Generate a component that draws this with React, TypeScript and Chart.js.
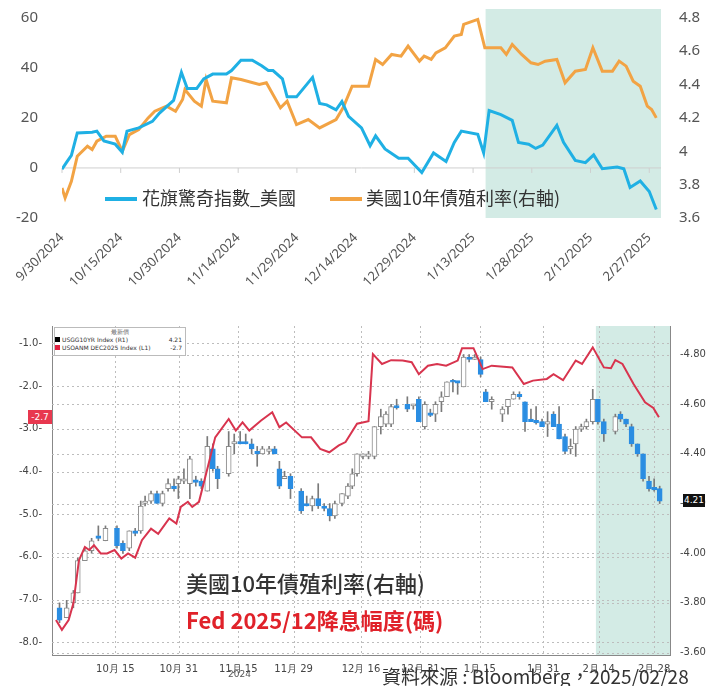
import React, { useEffect, useRef } from "react";
import { Chart, registerables } from "chart.js";
Chart.register(...registerables);

// ---------- Top chart data ----------
const topTickDays = [0, 15, 30, 45, 60, 75, 90, 105, 120, 135, 150];
const citiDays = [0, 1.2, 2.4, 3.9, 7.7, 8.9, 10.7, 13.6, 15.4, 16.6, 19.6, 23.1, 24.9, 28.5, 30.5, 32, 34.4, 36.2, 38.5, 42, 43.3, 45.7, 48.6, 51, 52.7, 53.9, 56.3, 57.5, 59.9, 64, 65.8, 67.6, 70, 71.5, 73.2, 76.5, 78.7, 80.1, 82.5, 86, 88.4, 91.9, 94.9, 98.1, 100.2, 102, 106.2, 107.7, 109.1, 112.1, 115, 116.6, 119.2, 121, 122.8, 126.4, 128.1, 131.1, 133.7, 135.8, 138, 141.8, 143.5, 145.1, 147.7, 150, 151.8];
const citiValues = [-0.5, 2.3, 5, 14, 14.3, 14.7, 10.8, 9.5, 6.3, 14.7, 16, 18.6, 21.9, 27, 38.2, 31.7, 31.7, 35.6, 37.5, 37.5, 38.9, 43, 43, 40.8, 38.9, 38.9, 35.6, 28.4, 28.4, 36.2, 25.8, 25.2, 23.2, 26.5, 20.6, 16, 8.9, 12.8, 7.6, 3.9, 3.9, -1.8, 6, 2.6, 10.2, 14.7, 13.4, 6, 22.9, 21.3, 19, 10.2, 9.5, 7.8, 9.1, 17, 10.2, 3, 2.1, 5.2, -0.3, 0.4, -0.3, -7.8, -5.2, -9.4, -16.6];
const yieldDays = [0, 0.8, 2.4, 3.9, 6.5, 7.7, 8.9, 11.3, 13.6, 15.4, 17.2, 19.6, 22, 23.7, 26.7, 29, 30.8, 31.4, 33.8, 35.6, 36.8, 38.5, 42, 43.3, 45.7, 50.4, 52.2, 55.8, 57.5, 59.9, 62.9, 65.8, 70, 71.8, 74.1, 78.3, 80.1, 81.9, 84.2, 86.6, 88.4, 91.3, 92.5, 94.3, 95.5, 97.9, 100.2, 102, 102.6, 106.2, 108, 109.7, 112.1, 113.5, 115, 117.4, 119.8, 121.6, 123.4, 126.4, 128.5, 131.1, 133.7, 135.6, 138, 140.6, 142.3, 144.1, 145.9, 147.7, 149.5, 150.6, 151.8];
const yieldValues = [3.78, 3.72, 3.82, 3.97, 4.03, 4.01, 4.06, 4.09, 4.09, 4.0, 4.1, 4.13, 4.2, 4.24, 4.27, 4.24, 4.31, 4.37, 4.3, 4.27, 4.43, 4.3, 4.29, 4.44, 4.43, 4.4, 4.41, 4.26, 4.3, 4.16, 4.19, 4.14, 4.19, 4.26, 4.39, 4.39, 4.55, 4.52, 4.58, 4.57, 4.63, 4.54, 4.57, 4.55, 4.59, 4.62, 4.69, 4.7, 4.76, 4.79, 4.62, 4.62, 4.62, 4.58, 4.64, 4.58, 4.53, 4.52, 4.54, 4.55, 4.41, 4.48, 4.49, 4.62, 4.48, 4.48, 4.54, 4.51, 4.42, 4.39, 4.27, 4.25, 4.2];
const topShade = [108.2, 153];
const topLeftTicks = [-20, 0, 20, 40, 60];
const topRightTicks = [3.6, 3.8, 4, 4.2, 4.4, 4.6, 4.8];

// ---------- Bottom chart data ----------
const botTickDays = [15, 31, 46, 60, 77, 92, 107, 123, 137, 151];
const botTickLabels = ["10月 15", "10月 31", "11月 15", "11月 29", "12月 16", "12月 31", "1月 15", "1月 31", "2月 14", "2月 28"];
const botLeftTicks = [-8, -7, -6, -5, -4, -3, -2, -1];
const botRightTicks = [3.6, 3.8, 4.0, 4.2, 4.4, 4.6, 4.8];
const fedDays = [0, 1.5, 3.2, 4.4, 5.8, 7.3, 8.4, 9.6, 11.3, 12.9, 14.8, 16.5, 18.2, 20, 21.7, 24, 25.8, 28.6, 30.4, 31.5, 33.3, 34.4, 36.1, 37.9, 40.2, 43.6, 45.4, 47.1, 48.8, 51.7, 54.6, 56.4, 58.1, 62.1, 64.4, 66.7, 69, 71.4, 73.1, 76, 78.9, 80, 82.3, 84.6, 87.5, 89.8, 91.6, 93.9, 96.2, 98.5, 101.4, 102.5, 105.4, 107.7, 110, 115.2, 118.1, 120.4, 123.9, 125.6, 128, 131.2, 132.8, 135.5, 138.3, 140.1, 141.2, 143, 145.8, 148.7, 150.8, 152.2];
const fedValues = [-7.48, -7.71, -7.48, -7.09, -6.08, -5.77, -5.84, -5.73, -5.92, -5.92, -5.84, -6.04, -5.92, -6.02, -5.61, -5.34, -5.46, -5.1, -5.22, -4.83, -4.71, -4.83, -4.71, -4.05, -3.2, -2.77, -3.04, -2.85, -3.04, -2.81, -2.61, -2.96, -2.85, -3.2, -3.2, -3.47, -3.55, -3.39, -3.31, -2.88, -2.82, -1.25, -1.48, -1.39, -1.4, -1.44, -1.72, -1.52, -1.48, -1.52, -1.4, -1.11, -1.11, -1.6, -1.52, -1.56, -1.95, -1.87, -1.83, -1.72, -1.86, -1.4, -1.48, -1.09, -1.56, -1.58, -1.39, -1.48, -1.95, -2.38, -2.51, -2.73];
const candleDays = [0.9, 2.7, 4.4, 5.5, 7.3, 9, 10.7, 12.5, 15.4, 16.9, 18.5, 20, 21.4, 22.5, 24, 25.5, 26.9, 28.3, 29.8, 30.9, 32.3, 33.8, 35.3, 36.7, 38.2, 39.6, 40.8, 43.6, 45, 46.5, 47.9, 49.4, 50.8, 52.1, 53.8, 55.2, 56.4, 57.7, 59.2, 61.9, 63.3, 64.7, 66.2, 67.7, 69.1, 70.4, 72.2, 73.7, 74.8, 76, 77.5, 78.9, 80.4, 82, 83.3, 84.6, 86, 88.7, 90.2, 91.6, 93.1, 94.5, 95.8, 97.3, 98.7, 100.2, 101.4, 102.9, 104.3, 105.7, 107.2, 108.5, 110, 112.7, 114.1, 115.5, 117, 118.4, 119.9, 121.2, 122.7, 124.1, 125.6, 127, 128.5, 129.9, 131.2, 132.6, 133.9, 135.5, 136.8, 138.3, 141.2, 142.5, 143.9, 145.3, 146.8, 148.2, 149.7, 151, 152.4];
const candleOpen = [3.78, 3.74, 3.8, 3.84, 3.97, 4.01, 4.07, 4.05, 4.1, 4.04, 4.02, 4.09, 4.09, 4.2, 4.21, 4.24, 4.2, 4.26, 4.27, 4.28, 4.29, 4.28, 4.295, 4.29, 4.25, 4.42, 4.34, 4.32, 4.44, 4.45, 4.45, 4.44, 4.41, 4.4, 4.41, 4.42, 4.34, 4.3, 4.31, 4.25, 4.2, 4.19, 4.22, 4.19, 4.18, 4.15, 4.2, 4.23, 4.27, 4.32, 4.39, 4.39, 4.39, 4.51, 4.52, 4.52, 4.595, 4.6, 4.595, 4.62, 4.51, 4.565, 4.56, 4.61, 4.63, 4.695, 4.695, 4.67, 4.79, 4.78, 4.78, 4.65, 4.61, 4.56, 4.59, 4.62, 4.64, 4.61, 4.54, 4.535, 4.53, 4.52, 4.56, 4.52, 4.47, 4.42, 4.44, 4.5, 4.51, 4.53, 4.62, 4.53, 4.49, 4.56, 4.54, 4.51, 4.44, 4.4, 4.29, 4.265, 4.26];
const candleClose = [3.73, 3.78, 3.84, 3.97, 4.01, 4.05, 4.06, 4.1, 4.03, 4.01, 4.09, 4.08, 4.19, 4.21, 4.24, 4.2, 4.24, 4.28, 4.26, 4.3, 4.3, 4.38, 4.285, 4.27, 4.43, 4.34, 4.3, 4.43, 4.45, 4.44, 4.44, 4.42, 4.4, 4.42, 4.42, 4.4, 4.27, 4.31, 4.26, 4.17, 4.19, 4.22, 4.19, 4.18, 4.15, 4.2, 4.24, 4.27, 4.32, 4.4, 4.4, 4.4, 4.51, 4.55, 4.56, 4.59, 4.585, 4.58, 4.6, 4.53, 4.6, 4.555, 4.6, 4.63, 4.69, 4.69, 4.685, 4.79, 4.78, 4.79, 4.72, 4.61, 4.62, 4.58, 4.62, 4.64, 4.63, 4.53, 4.53, 4.525, 4.51, 4.53, 4.51, 4.46, 4.41, 4.43, 4.5, 4.51, 4.53, 4.62, 4.53, 4.48, 4.55, 4.54, 4.52, 4.44, 4.4, 4.3, 4.26, 4.255, 4.21];
const candleHigh = [3.8, 3.81, 3.85, 3.98, 4.02, 4.06, 4.11, 4.11, 4.11, 4.05, 4.09, 4.1, 4.21, 4.23, 4.25, 4.25, 4.25, 4.3, 4.3, 4.31, 4.34, 4.39, 4.31, 4.3, 4.47, 4.44, 4.35, 4.49, 4.48, 4.49, 4.48, 4.46, 4.43, 4.43, 4.43, 4.43, 4.37, 4.33, 4.32, 4.26, 4.23, 4.23, 4.28, 4.2, 4.2, 4.21, 4.24, 4.28, 4.34, 4.4, 4.4, 4.41, 4.51, 4.58, 4.57, 4.6, 4.62, 4.63, 4.6, 4.63, 4.61, 4.58, 4.61, 4.65, 4.69, 4.7, 4.69, 4.8, 4.8, 4.8, 4.79, 4.66, 4.63, 4.59, 4.62, 4.65, 4.65, 4.61, 4.58, 4.59, 4.54, 4.57, 4.57, 4.59, 4.48, 4.46, 4.51, 4.52, 4.54, 4.66, 4.62, 4.54, 4.56, 4.57, 4.54, 4.52, 4.44, 4.4, 4.31, 4.3, 4.27];
const candleLow = [3.72, 3.74, 3.78, 3.84, 3.97, 4.0, 4.05, 4.05, 4.02, 4.0, 4.01, 4.07, 4.08, 4.19, 4.2, 4.2, 4.19, 4.25, 4.25, 4.22, 4.28, 4.22, 4.27, 4.26, 4.25, 4.33, 4.26, 4.31, 4.4, 4.44, 4.44, 4.4, 4.35, 4.4, 4.4, 4.4, 4.26, 4.3, 4.22, 4.16, 4.19, 4.17, 4.18, 4.17, 4.13, 4.14, 4.19, 4.22, 4.26, 4.31, 4.38, 4.38, 4.38, 4.48, 4.51, 4.51, 4.58, 4.57, 4.58, 4.53, 4.5, 4.55, 4.53, 4.57, 4.63, 4.65, 4.64, 4.67, 4.77, 4.78, 4.71, 4.61, 4.58, 4.53, 4.56, 4.62, 4.62, 4.49, 4.53, 4.52, 4.51, 4.47, 4.51, 4.46, 4.4, 4.4, 4.39, 4.49, 4.5, 4.52, 4.52, 4.45, 4.48, 4.53, 4.51, 4.43, 4.39, 4.29, 4.25, 4.25, 4.2];
const botShadeStart = 136.3;

const BLUE = "#1fb0e4";
const ORANGE = "#f2a344";
const SHADE = "rgba(196,228,220,0.75)";

function fmtTopDate(d: number) {
  const dt = new Date(2024, 8, 30 + d);
  return `${dt.getMonth() + 1}/${dt.getDate()}/${dt.getFullYear()}`;
}

const shadePlugin = (from: number, to: number | null, topExtra: number, yId: string) => ({
  id: "shade" + yId,
  beforeDatasetsDraw(chart: any) {
    const { ctx, chartArea, scales } = chart;
    const x0 = scales.x.getPixelForValue(from);
    const x1 = to == null ? chartArea.right : scales.x.getPixelForValue(to);
    ctx.save();
    ctx.fillStyle = SHADE;
    ctx.fillRect(x0, chartArea.top - topExtra, x1 - x0, chartArea.bottom - chartArea.top + topExtra);
    ctx.restore();
  },
});

function TopChart() {
  const ref = useRef<HTMLCanvasElement>(null);
  useEffect(() => {
    const zeroTicks = {
      id: "zeroTicks",
      beforeDatasetsDraw(chart: any) {
        const { ctx, scales, chartArea } = chart;
        const y0 = scales.y.getPixelForValue(0);
        ctx.save();
        ctx.strokeStyle = "#cfcfcf";
        ctx.lineWidth = 1;
        ctx.beginPath();
        ctx.moveTo(chartArea.left, y0);
        ctx.lineTo(chartArea.right, y0);
        topTickDays.forEach((d) => {
          const x = scales.x.getPixelForValue(d);
          ctx.moveTo(x, y0);
          ctx.lineTo(x, y0 + 5);
        });
        ctx.stroke();
        ctx.restore();
      },
    };
    const c = new Chart(ref.current!, {
      type: "line",
      data: {
        datasets: [
          { data: citiDays.map((x, i) => ({ x, y: citiValues[i] })), borderColor: BLUE, borderWidth: 3, pointRadius: 0, yAxisID: "y", tension: 0 },
          { data: yieldDays.map((x, i) => ({ x, y: yieldValues[i] })), borderColor: ORANGE, borderWidth: 3, pointRadius: 0, yAxisID: "yR", tension: 0 },
        ],
      },
      options: {
        animation: false,
        responsive: false,
        layout: { padding: { top: 7 } },
        plugins: { legend: { display: false }, tooltip: { enabled: false } },
        scales: {
          x: {
            type: "linear", min: 0, max: 153,
            afterBuildTicks: (s: any) => { s.ticks = topTickDays.map((v) => ({ value: v })); },
            afterFit: (s: any) => { s.height = 82; },
            grid: { display: false }, border: { display: false },
            ticks: { callback: (v: any) => fmtTopDate(v), minRotation: 45, maxRotation: 45, color: "#555", font: { size: 13, family: "Noto Sans" }, padding: 4 },
          },
          y: {
            position: "left", min: -20, max: 63.5,
            afterBuildTicks: (s: any) => { s.ticks = topLeftTicks.map((v) => ({ value: v })); },
            afterFit: (s: any) => { s.width = 62; },
            grid: { display: false }, border: { display: false },
            ticks: { color: "#555", font: { size: 15, family: "Noto Sans" }, padding: 16 },
          },
          yR: {
            position: "right", min: 3.6, max: 4.8525,
            afterBuildTicks: (s: any) => { s.ticks = topRightTicks.map((v) => ({ value: v })); },
            afterFit: (s: any) => { s.width = 64; },
            grid: { display: false }, border: { display: false },
            ticks: { callback: (v: any) => String(Number(v.toFixed(1))), color: "#555", font: { size: 15, family: "Noto Sans" }, padding: 10 },
          },
        },
      },
      plugins: [shadePlugin(topShade[0], topShade[1], 0, "top"), zeroTicks],
    } as any);
    return () => c.destroy();
  }, []);
  return <canvas ref={ref} width={725} height={316} style={{ position: "absolute", left: 0, top: -16 }} />;
}

function BottomChart() {
  const ref = useRef<HTMLCanvasElement>(null);
  useEffect(() => {
    const up = candleClose.map((c, i) => c >= candleOpen[i]);
    const bodies = candleDays.map((x, i) => {
      let lo = Math.min(candleOpen[i], candleClose[i]);
      let hi = Math.max(candleOpen[i], candleClose[i]);
      if (hi - lo < 0.008) { const m = (hi + lo) / 2; lo = m - 0.004; hi = m + 0.004; }
      return { x, y: [lo, hi] };
    });
    const wicks = candleDays.map((x, i) => ({ x, y: [candleLow[i], candleHigh[i]] }));
    const gridPlugin = {
      id: "bgrid",
      beforeDatasetsDraw(chart: any) {
        const { ctx, scales, chartArea } = chart;
        ctx.save();
        ctx.strokeStyle = "#bdbdbd";
        ctx.setLineDash([2, 3]);
        ctx.lineWidth = 1;
        ctx.beginPath();
        botLeftTicks.forEach((v) => { const y = Math.round(scales.yL.getPixelForValue(v)) + 0.5; ctx.moveTo(chartArea.left, y); ctx.lineTo(chartArea.right, y); });
        botRightTicks.forEach((v) => { const y = Math.round(scales.yR.getPixelForValue(v)) + 0.5; ctx.moveTo(chartArea.left, y); ctx.lineTo(chartArea.right, y); });
        botTickDays.forEach((d) => { const x = Math.round(scales.x.getPixelForValue(d)) + 0.5; ctx.moveTo(x, chartArea.top); ctx.lineTo(x, chartArea.bottom); });
        ctx.stroke();
        ctx.restore();
      },
    };
    const c = new Chart(ref.current!, {
      type: "bar",
      data: {
        datasets: [
          { type: "line", data: fedDays.map((x, i) => ({ x, y: fedValues[i] })), borderColor: "#d8344e", borderWidth: 2, pointRadius: 0, yAxisID: "yL", order: 0 },
          { type: "bar", data: bodies, yAxisID: "yR", grouped: false, barThickness: 5, backgroundColor: up.map((u) => (u ? "#ffffff" : "#2a8de2")), borderColor: up.map((u) => (u ? "#8a8a8a" : "#2a8de2")), borderWidth: 1, borderSkipped: false, order: 1 },
          { type: "bar", data: wicks, yAxisID: "yR", grouped: false, barThickness: 1, backgroundColor: "#7a7a7a", order: 2 },
        ],
      },
      options: {
        animation: false,
        responsive: false,
        layout: { padding: { top: 7 } },
        plugins: { legend: { display: false }, tooltip: { enabled: false } },
        scales: {
          x: {
            type: "linear", min: -1, max: 155, offset: false,
            afterBuildTicks: (s: any) => { s.ticks = botTickDays.map((v) => ({ value: v })); },
            afterFit: (s: any) => { s.height = 31; },
            grid: { display: false }, border: { color: "#888" },
            ticks: { callback: (v: any) => botTickLabels[botTickDays.indexOf(v)], maxRotation: 0, color: "#444", font: { size: 10, family: "DejaVu Sans" }, padding: 0 },
          },
          yL: {
            position: "left", min: -8.3, max: -0.59,
            afterBuildTicks: (s: any) => { s.ticks = botLeftTicks.map((v) => ({ value: v })); },
            afterFit: (s: any) => { s.width = 52; },
            grid: { display: false }, border: { color: "#888" },
            ticks: { callback: (v: any) => Number(v).toFixed(1) + "-", color: "#444", font: { size: 10, family: "DejaVu Sans" }, padding: 2 },
          },
          yR: {
            position: "right", min: 3.59, max: 4.915,
            afterBuildTicks: (s: any) => { s.ticks = botRightTicks.map((v) => ({ value: v })); },
            afterFit: (s: any) => { s.width = 55; },
            grid: { display: false }, border: { color: "#888" },
            ticks: { callback: (v: any) => "-" + Number(v).toFixed(2), color: "#444", font: { size: 10, family: "DejaVu Sans" }, padding: 2 },
          },
        },
      },
      plugins: [shadePlugin(botShadeStart, null, 0, "bot"), gridPlugin],
    } as any);
    return () => c.destroy();
  }, []);
  return <canvas ref={ref} width={725} height={368} style={{ position: "absolute", left: 0, top: 318 }} />;
}

const abs = (s: any): any => ({ position: "absolute", whiteSpace: "nowrap", ...s });
const CJK = "'Noto Sans CJK TC', 'Noto Sans', sans-serif";

export default function App() {
  return (
    <div style={abs({ left: 0, top: 0, width: 725, height: 686, background: "#fff", overflow: "hidden" })}>
      <TopChart />
      <div style={abs({ left: 105, top: 197, width: 32, height: 4, background: BLUE })} />
      <div style={abs({ left: 142, top: 184, fontFamily: CJK, fontSize: 18, color: "#333", lineHeight: "26px" })}>花旗驚奇指數_美國</div>
      <div style={abs({ left: 330, top: 197, width: 32, height: 4, background: ORANGE })} />
      <div style={abs({ left: 366, top: 184, fontFamily: CJK, fontSize: 18, color: "#333", lineHeight: "26px" })}>美國10年債殖利率(右軸)</div>

      <BottomChart />
      <div style={abs({ left: 54, top: 327, width: 130, height: 27, background: "#fff", border: "1px solid #bbb", fontFamily: "DejaVu Sans", fontSize: 6, color: "#333", lineHeight: "8px" })}>
        <div style={{ textAlign: "center", color: "#666" }}>最新價</div>
        <div><span style={{ display: "inline-block", width: 5, height: 5, background: "#000", marginRight: 2 }} />USGG10YR Index (R1)<span style={{ float: "right", marginRight: 3 }}>4.21</span></div>
        <div><span style={{ display: "inline-block", width: 5, height: 5, background: "#e02040", marginRight: 2 }} />USOANM DEC2025 Index (L1)<span style={{ float: "right", marginRight: 3 }}>-2.7</span></div>
      </div>
      <div style={abs({ left: 28, top: 410, width: 24, height: 14, background: "#e8384f", color: "#fff", fontFamily: "DejaVu Sans", fontSize: 9, lineHeight: "14px", textAlign: "center" })}>-2.7</div>
      <div style={abs({ left: 683, top: 494, width: 22, height: 13, background: "#111", color: "#fff", fontFamily: "DejaVu Sans", fontSize: 9, lineHeight: "13px", textAlign: "center" })}>4.21</div>
      <div style={abs({ left: 228, top: 669, fontFamily: "DejaVu Sans", fontSize: 9, color: "#555" })}>2024</div>
      <div style={abs({ left: 186, top: 567, fontFamily: CJK, fontSize: 22, fontWeight: 500, color: "#333", lineHeight: "30px" })}>美國10年債殖利率(右軸)</div>
      <div style={abs({ left: 186, top: 604, fontFamily: CJK, fontSize: 22, fontWeight: 700, color: "#e0222a", lineHeight: "30px" })}>Fed 2025/12降息幅度(碼)</div>
      <div style={abs({ left: 382, top: 664, fontFamily: CJK, fontSize: 19, color: "#333", lineHeight: "24px" })}>資料來源 : Bloomberg，2025/02/28</div>
    </div>
  );
}
